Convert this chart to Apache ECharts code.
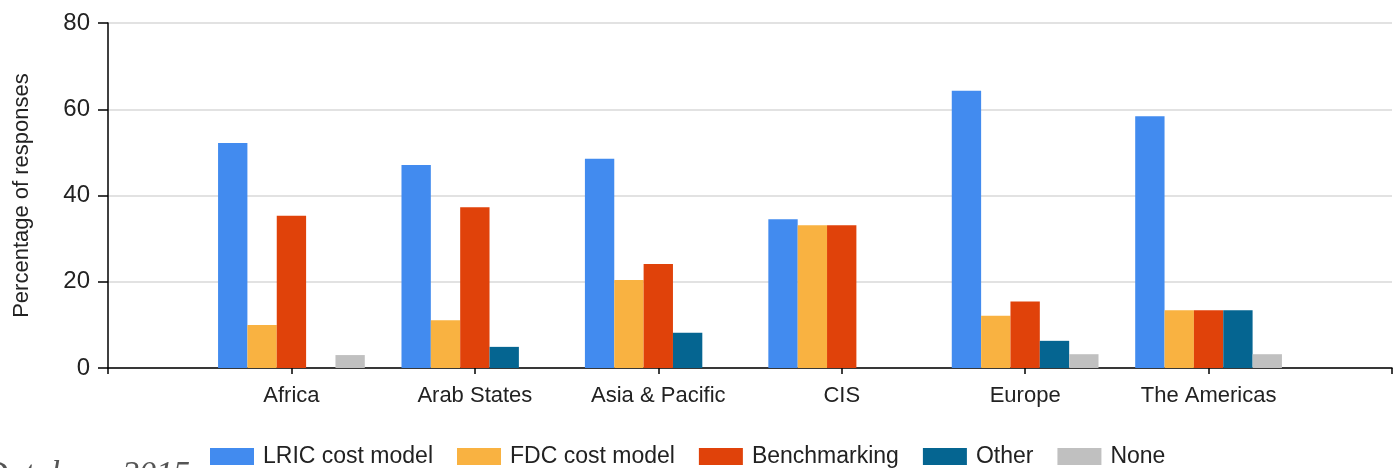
<!DOCTYPE html>
<html>
<head>
<meta charset="utf-8">
<script src="https://cdn.jsdelivr.net/npm/echarts@6/dist/echarts.min.js"></script>
<style>
html,body{margin:0;padding:0;background:#fff;}
#chart{width:1396px;height:468px;}
</style>
</head>
<body>
<div id="chart"></div>
<script>
const categories = ['Africa', 'Arab States', 'Asia & Pacific', 'CIS', 'Europe', 'The Americas'];
const seriesNames = ['LRIC cost model', 'FDC cost model', 'Benchmarking', 'Other', 'None'];
const lric = [52.2, 47.1, 48.5, 34.5, 64.3, 58.4];
const fdc = [10.0, 11.1, 20.4, 33.1, 12.1, 13.4];
const benchmarking = [35.3, 37.3, 24.1, 33.1, 15.4, 13.4];
const other = [0, 4.9, 8.2, 0, 6.3, 13.4];
const none = [3.0, 0, 0, 0, 3.2, 3.2];
const yTicks = [0, 20, 40, 60, 80];
const colors = ['#428bef', '#f9b241', '#e0420a', '#056591', '#c0c0c0'];

const values = [lric, fdc, benchmarking, other, none];
// pad with empty slots at both ends so category centres sit on ticks
const paddedCats = [''].concat(categories, ['']);
const font = '"Liberation Sans", Arial, sans-serif';

const chart = echarts.init(document.getElementById('chart'), null, {renderer: 'canvas'});
chart.setOption({
  animation: false,
  backgroundColor: '#ffffff',
  grid: {left: 108, right: 4, top: 23, bottom: 100, containLabel: false, outerBoundsMode: 'none'},
  legend: {
    left: 210, top: 445, padding: 0,
    itemWidth: 44, itemHeight: 17, itemGap: 24,
    icon: 'rect',
    textStyle: {fontFamily: font, fontSize: 23, color: '#222', padding: [0, 0, 0, 4]},
    data: seriesNames
  },
  xAxis: {
    type: 'category',
    data: paddedCats,
    boundaryGap: false,
    axisLine: {lineStyle: {color: '#000', width: 1.5}},
    axisTick: {show: true, length: 6, lineStyle: {color: '#000', width: 1.5}},
    axisLabel: {interval: 0, margin: 17, fontFamily: font, fontSize: 22, color: '#222'},
    splitLine: {show: false}
  },
  yAxis: {
    type: 'value',
    min: yTicks[0], max: yTicks[yTicks.length - 1], interval: 20,
    name: 'Percentage of responses',
    nameLocation: 'middle',
    nameGap: 75,
    nameTextStyle: {fontFamily: font, fontSize: 22, color: '#222'},
    axisLine: {show: true, lineStyle: {color: '#000', width: 1.5}},
    axisTick: {show: true, inside: false, length: 10, lineStyle: {color: '#000', width: 1.5}},
    axisLabel: {margin: 18, fontFamily: font, fontSize: 24, color: '#222'},
    splitLine: {show: true, lineStyle: {color: '#e2e2e2', width: 2}}
  },
  graphic: [{
    type: 'text',
    x: 190, y: 492,
    style: {
      text: 'Database 2015',
      align: 'right', verticalAlign: 'bottom',
      font: 'italic 34px "Liberation Serif", "DejaVu Serif", serif',
      fill: '#555'
    },
    silent: true
  }],
  series: values.map((arr, i) => ({
    name: seriesNames[i],
    type: 'bar',
    barGap: '0%',
    barCategoryGap: '20%',
    itemStyle: {color: colors[i]},
    data: [null].concat(arr.map(v => (v === 0 ? null : v)), [null])
  }))
});
</script>
</body>
</html>
